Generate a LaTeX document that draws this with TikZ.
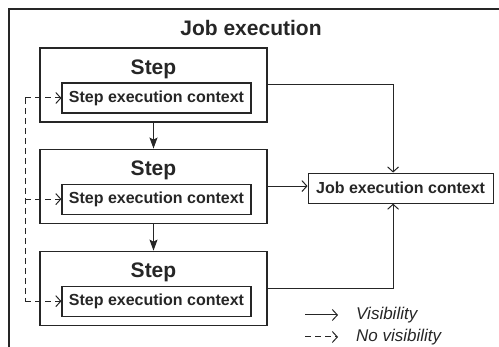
\documentclass[tikz,border=0pt]{standalone}
\usepackage{fontspec}
\setmainfont{Liberation Sans}
\usetikzlibrary{positioning,arrows.meta}
\definecolor{ink}{HTML}{262626}

\begin{document}
\begin{tikzpicture}[x=1pt, y=1pt,
      node distance=26pt and 40pt,
      stepbox/.style={draw=ink, line width=1.1pt, minimum width=227pt,
                      minimum height=74pt, inner sep=0pt},
      steplbl/.style={font=\fontsize{21}{25}\selectfont\bfseries, text=ink, inner sep=0pt},
      ctxbox/.style={draw=ink, line width=1.1pt, minimum width=189pt, minimum height=30pt,
                     inner sep=0pt, text=ink, font=\fontsize{16}{19}\selectfont\bfseries},
      lgd/.style={font=\fontsize{17}{20}\selectfont\itshape, text=ink, anchor=west, inner sep=0pt},
      vis/.style={draw=ink, line width=1pt, -{Straight Barb[length=5pt, width=11pt]}},
      novis/.style={vis, dash pattern=on 6pt off 4pt},
      seq/.style={draw=ink, line width=1pt, -{Stealth[length=11pt, width=8pt, inset=2pt]}}]
    \useasboundingbox (0,0) rectangle (499,-347);
    \clip (0,0) rectangle (499,-347);
    % outer frame, cut by the page
    \draw[ink, line width=1.2pt] (9,-360) |- (520,-9);
    \node[steplbl] (jobtitle) at (251,-28) {Job execution};
    % steps
    \node[stepbox] (step1) at (153.5,-85) {};
    \node[stepbox, below=of step1] (step2) {};
    \node[stepbox, below=27pt of step2] (step3) {};
    \foreach \s in {1,2,3} {
      \node[steplbl] at ([yshift=-22pt]step\s.north) {Step};
      \node[ctxbox, anchor=south] (ctx\s) at ([xshift=3pt, yshift=9pt]step\s.south) {Step execution context};
      \coordinate (bus\s) at ([xshift=-36pt]ctx\s.west);
      \draw[novis] (bus\s) -- (ctx\s);
    }
    \draw[ink, line width=1pt, dash pattern=on 6pt off 4pt] (bus1) -- (bus3);
    \draw[seq] (step1) -- (step2);
    \draw[seq] (step2) -- (step3);
    % job context
    \node[ctxbox, minimum width=185pt, right=40pt of step2, yshift=-2pt] (jobctx) {Job execution context};
    \draw[vis] (step1.east) -| ([xshift=-7.5pt]jobctx.north);
    \draw[vis] (step2.east) -- (step2.east -| jobctx.west);
    \draw[vis] (step3.east) -| ([xshift=-7.5pt]jobctx.south);
    % legend
    \node[lgd] (vislbl) at (356,-315) {Visibility};
    \node[lgd] (novislbl) at (356,-337) {No visibility};
    \draw[vis] ([xshift=-51pt]vislbl.west) -- ([xshift=-18pt]vislbl.west);
    \draw[novis] ([xshift=-51pt]novislbl.west) -- ([xshift=-18pt]novislbl.west);
  \end{tikzpicture}
\end{document}
